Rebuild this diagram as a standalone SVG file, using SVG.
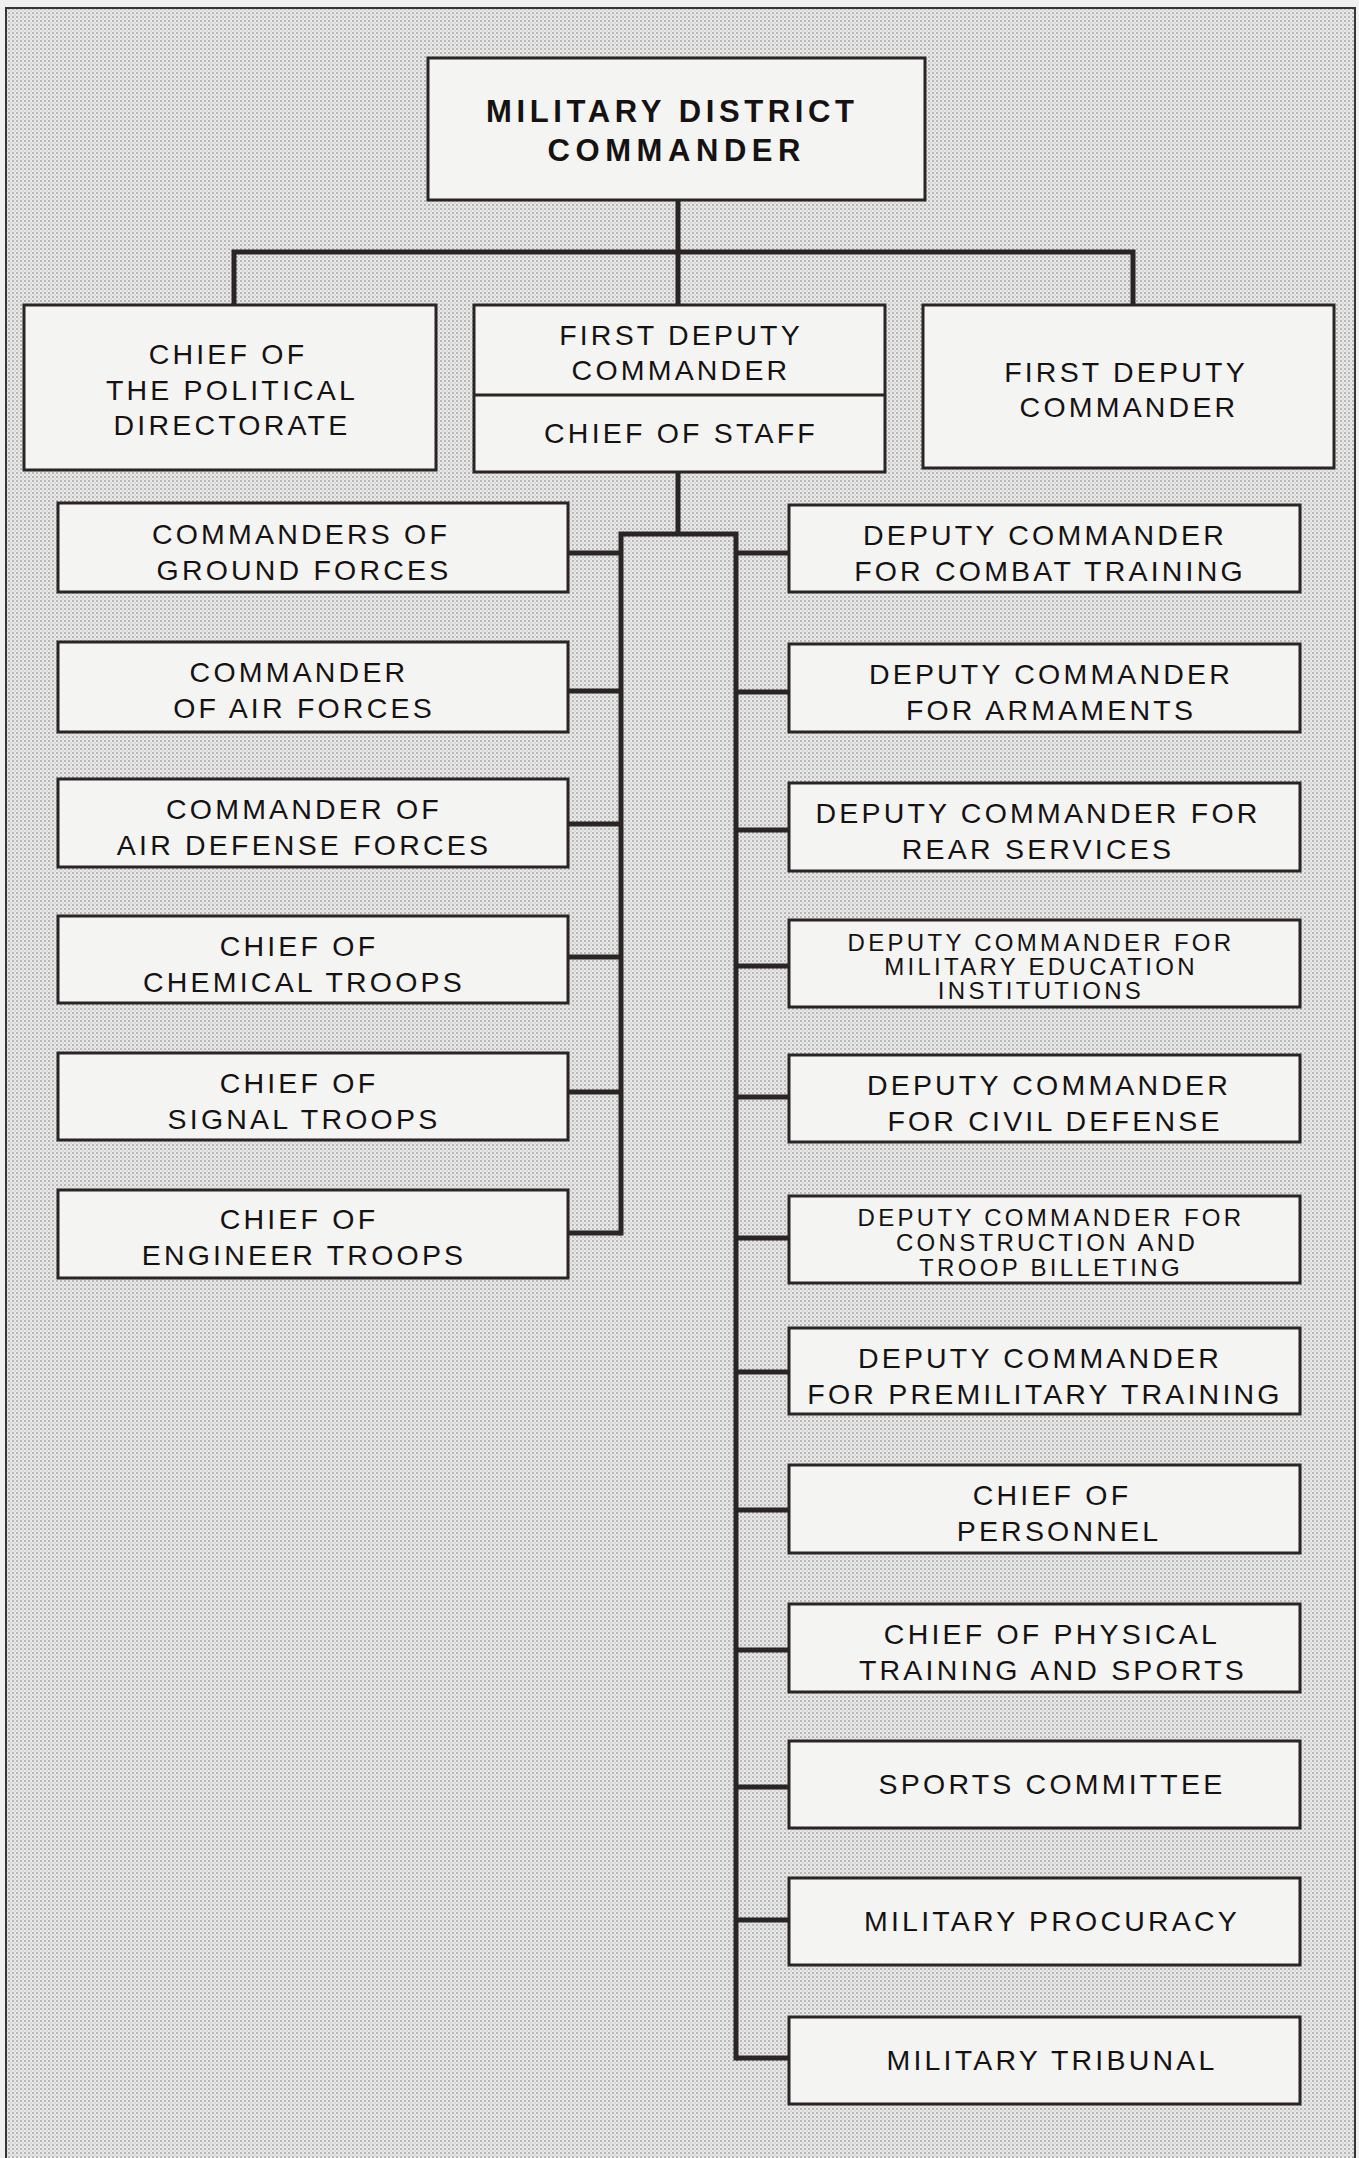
<svg xmlns="http://www.w3.org/2000/svg" width="1359" height="2158" viewBox="0 0 1359 2158">
<defs>
<pattern id="stip" width="4" height="4" patternUnits="userSpaceOnUse">
<rect width="4" height="4" fill="#e9e9e9"/>
<circle cx="1" cy="1" r="1.0" fill="#a6a6a6"/>
<circle cx="3" cy="3" r="0.75" fill="#bcbcbc"/>
</pattern>
<style>
.box{fill:#f4f4f2;stroke:#2a2424;stroke-width:3}
.con{fill:none;stroke:#2a2424;stroke-width:5;stroke-linejoin:miter;stroke-linecap:butt}
text{font-family:"Liberation Sans",Arial,Helvetica,sans-serif;fill:#161212;text-anchor:middle}
.t{font-size:28.5px;letter-spacing:3.2px}
.s{font-size:24px;letter-spacing:3.3px}
.b{font-size:31px;font-weight:bold}
</style>
</defs>
<rect width="1359" height="2158" fill="#f0f0f0"/>
<rect x="6" y="8" width="1349" height="2170" fill="url(#stip)" stroke="#3a3434" stroke-width="2"/>

<g id="connectors">
<path class="con" d="M678 200 V252 M231.5 252 H1135.5 M234 252 V305 M678 252 V305 M1133 252 V305 M678 472 V534"/>
<path class="con" d="M621 1235.5 V534 H736 V2060.5"/>
<path class="con" d="M568 553 H621 M568 691 H621 M568 824 H621 M568 957 H621 M568 1092 H621 M568 1233 H621"/>
<path class="con" d="M736 553 H789 M736 692 H789 M736 830 H789 M736 966 H789 M736 1097 H789 M736 1238 H789 M736 1372 H789 M736 1510 H789 M736 1650 H789 M736 1787 H789 M736 1920 H789 M736 2058 H789"/>
</g>

<g id="n-commander">
<rect class="box" x="428" y="58" width="497" height="142"/>
<text class="b" x="670" y="122" textLength="368" lengthAdjust="spacing">MILITARY DISTRICT</text>
<text class="b" x="674" y="161" textLength="253" lengthAdjust="spacing">COMMANDER</text>
</g>

<g id="n-political">
<rect class="box" x="24" y="305" width="412" height="165"/>
<text class="t" x="228" y="364">CHIEF OF</text>
<text class="t" x="232" y="400">THE POLITICAL</text>
<text class="t" x="232" y="435">DIRECTORATE</text>
</g>

<g id="n-first-deputy-cos">
<rect class="box" x="474" y="305" width="411" height="167"/>
<line x1="474" y1="395" x2="885" y2="395" stroke="#2a2424" stroke-width="3"/>
<text class="t" x="681" y="345">FIRST DEPUTY</text>
<text class="t" x="681" y="380">COMMANDER</text>
<text class="t" x="681" y="443">CHIEF OF STAFF</text>
</g>

<g id="n-first-deputy">
<rect class="box" x="923" y="305" width="411" height="163"/>
<text class="t" x="1126" y="382">FIRST DEPUTY</text>
<text class="t" x="1129" y="417">COMMANDER</text>
</g>

<g id="n-ground">
<rect class="box" x="58" y="503" width="510" height="89"/>
<text class="t" x="301" y="544">COMMANDERS OF</text>
<text class="t" x="304" y="580">GROUND FORCES</text>
</g>
<g id="n-air">
<rect class="box" x="58" y="642" width="510" height="90"/>
<text class="t" x="299" y="682">COMMANDER</text>
<text class="t" x="304" y="718">OF AIR FORCES</text>
</g>
<g id="n-airdef">
<rect class="box" x="58" y="779" width="510" height="88"/>
<text class="t" x="304" y="819">COMMANDER OF</text>
<text class="t" x="304" y="855">AIR DEFENSE FORCES</text>
</g>
<g id="n-chem">
<rect class="box" x="58" y="916" width="510" height="87"/>
<text class="t" x="299" y="956">CHIEF OF</text>
<text class="t" x="304" y="992">CHEMICAL TROOPS</text>
</g>
<g id="n-signal">
<rect class="box" x="58" y="1053" width="510" height="87"/>
<text class="t" x="299" y="1093">CHIEF OF</text>
<text class="t" x="304" y="1129">SIGNAL TROOPS</text>
</g>
<g id="n-engineer">
<rect class="box" x="58" y="1190" width="510" height="88"/>
<text class="t" x="299" y="1229">CHIEF OF</text>
<text class="t" x="304" y="1265">ENGINEER TROOPS</text>
</g>

<g id="n-combat">
<rect class="box" x="789" y="505" width="511" height="87"/>
<text class="t" x="1045" y="545">DEPUTY COMMANDER</text>
<text class="t" x="1050" y="581">FOR COMBAT TRAINING</text>
</g>
<g id="n-armaments">
<rect class="box" x="789" y="644" width="511" height="88"/>
<text class="t" x="1051" y="684">DEPUTY COMMANDER</text>
<text class="t" x="1051" y="720">FOR ARMAMENTS</text>
</g>
<g id="n-rear">
<rect class="box" x="789" y="783" width="511" height="88"/>
<text class="t" x="1038" y="823">DEPUTY COMMANDER FOR</text>
<text class="t" x="1038" y="859">REAR SERVICES</text>
</g>
<g id="n-education">
<rect class="box" x="789" y="920" width="511" height="87"/>
<text class="s" x="1041" y="951">DEPUTY COMMANDER FOR</text>
<text class="s" x="1041" y="975">MILITARY EDUCATION</text>
<text class="s" x="1041" y="999">INSTITUTIONS</text>
</g>
<g id="n-civil">
<rect class="box" x="789" y="1055" width="511" height="87"/>
<text class="t" x="1049" y="1095">DEPUTY COMMANDER</text>
<text class="t" x="1055" y="1131">FOR CIVIL DEFENSE</text>
</g>
<g id="n-construction">
<rect class="box" x="789" y="1196" width="511" height="87"/>
<text class="s" x="1051" y="1226">DEPUTY COMMANDER FOR</text>
<text class="s" x="1047" y="1251">CONSTRUCTION AND</text>
<text class="s" x="1051" y="1276">TROOP BILLETING</text>
</g>
<g id="n-premilitary">
<rect class="box" x="789" y="1328" width="511" height="86"/>
<text class="t" x="1040" y="1368">DEPUTY COMMANDER</text>
<text class="t" x="1045" y="1404">FOR PREMILITARY TRAINING</text>
</g>
<g id="n-personnel">
<rect class="box" x="789" y="1465" width="511" height="88"/>
<text class="t" x="1052" y="1505">CHIEF OF</text>
<text class="t" x="1059" y="1541">PERSONNEL</text>
</g>
<g id="n-physical">
<rect class="box" x="789" y="1604" width="511" height="88"/>
<text class="t" x="1052" y="1644">CHIEF OF PHYSICAL</text>
<text class="t" x="1053" y="1680">TRAINING AND SPORTS</text>
</g>
<g id="n-sports">
<rect class="box" x="789" y="1741" width="511" height="87"/>
<text class="t" x="1052" y="1794">SPORTS COMMITTEE</text>
</g>
<g id="n-procuracy">
<rect class="box" x="789" y="1878" width="511" height="87"/>
<text class="t" x="1052" y="1931">MILITARY PROCURACY</text>
</g>
<g id="n-tribunal">
<rect class="box" x="789" y="2017" width="511" height="87"/>
<text class="t" x="1052" y="2070">MILITARY TRIBUNAL</text>
</g>
</svg>
